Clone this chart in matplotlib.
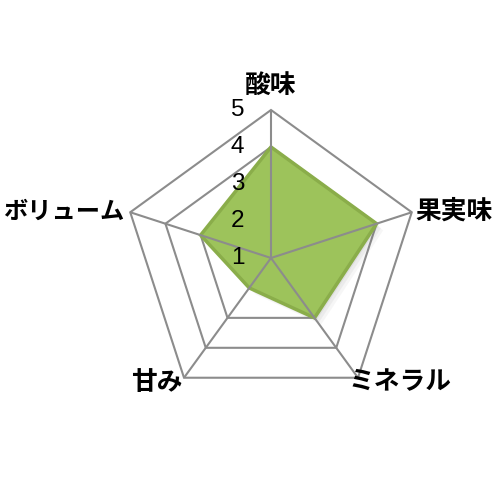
import numpy as np
import matplotlib.pyplot as plt

plt.rcParams['font.family'] = ['Noto Sans CJK JP', 'DejaVu Sans']

categories = ['酸味', '果実味', 'ミネラル', '甘み', 'ボリューム']
values = [4, 4, 3, 2, 3]
levels = [1, 2, 3, 4, 5]
vmin, vmax = 1, 5

n = len(categories)
ang = np.pi / 2 - np.arange(n) * 2 * np.pi / n  # start at top, clockwise
ux, uy = np.cos(ang), np.sin(ang)

def to_xy(vals):
    r = np.asarray(vals, dtype=float) - vmin
    return r * ux, r * uy

fig = plt.figure(figsize=(5, 5), dpi=100)
ax = fig.add_axes([0, 0, 1, 1])
# 37 px per unit, centre at pixel (271, 258)
s = 37.0
ax.set_xlim(-271 / s, (500 - 271) / s)
ax.set_ylim(-(500 - 258) / s, 258 / s)
ax.axis('off')

grid_c = '#8c8c8c'
# rings
for lv in levels[1:]:
    gx, gy = to_xy([lv] * n)
    ax.fill(gx, gy, fill=False, edgecolor=grid_c, lw=1.5, zorder=1)

# data polygon with a soft shadow
dx, dy = to_xy(values)
for k, a in enumerate([0.10, 0.08, 0.06]):
    off = 0.06 * (k + 1)
    ax.fill(dx + off, dy - off, color='#707070', alpha=a, lw=0, zorder=2)
ax.fill(dx, dy, facecolor='#9dc35b', edgecolor='#8aad4a', lw=2.5, zorder=3)

# spokes on top
ox, oy = to_xy([vmax] * n)
for i in range(n):
    ax.plot([0, ox[i]], [0, oy[i]], color=grid_c, lw=1.5, zorder=4,
            solid_capstyle='butt')

# value labels along the top spoke
for lv in levels:
    ax.text(-0.9, lv - vmin, str(lv), ha='center', va='center',
            fontsize=17.5, family=['Liberation Sans', 'DejaVu Sans'], zorder=5)

# category labels
R = vmax - vmin
lab_pos = [
    (0.0, R + 0.66, 'center', 'center'),
    (R * ux[1] + 0.1, R * uy[1] + 0.03, 'left', 'center'),
    (R * ux[2] - 0.25, R * uy[2] - 0.12, 'left', 'center'),
    (R * ux[3] - 0.05, R * uy[3] - 0.12, 'right', 'center'),
    (R * ux[4] - 0.17, R * uy[4], 'right', 'center'),
]
for name, (x, y, ha, va) in zip(categories, lab_pos):
    fs = 17.5 if name == 'ボリューム' else 18.5
    ax.text(x, y, name, ha=ha, va=va, fontsize=fs, fontweight='bold', zorder=5)

fig.savefig('out.png', dpi=100, facecolor='white')
